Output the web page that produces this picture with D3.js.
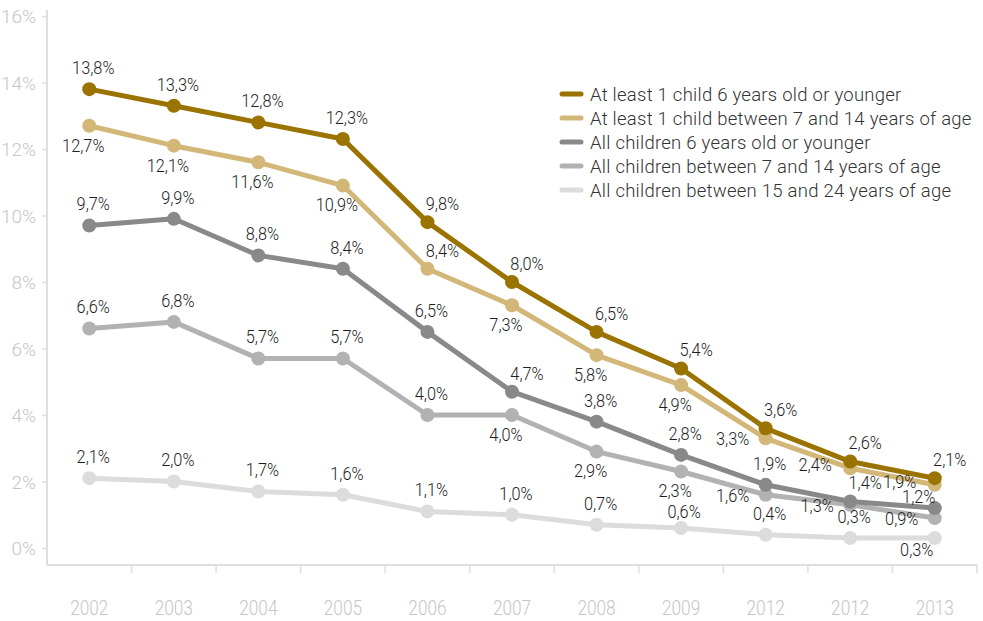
<!DOCTYPE html>
<html>
<head>
<meta charset="utf-8">
<script src="https://cdn.jsdelivr.net/npm/d3@7/dist/d3.min.js"></script>
<style>
  html, body { margin: 0; padding: 0; background: #fff; }
  svg { display: block; }
</style>
</head>
<body>
<svg id="chart" width="983" height="621"></svg>
<script>
// Share of households, by presence and age of children
const years = ['2002', '2003', '2004', '2005', '2006', '2007', '2008', '2009', '2012', '2012', '2013'];
const yTicks = [0, 2, 4, 6, 8, 10, 12, 14, 16];

const seriesNames = [
  'At least 1 child 6 years old or younger',
  'At least 1 child between 7 and 14 years of age',
  'All children 6 years old or younger',
  'All children between 7 and 14 years of age',
  'All children between 15 and 24 years of age'
];
const atLeastOneUnder7 = [13.8, 13.3, 12.8, 12.3, 9.8, 8.0, 6.5, 5.4, 3.6, 2.6, 2.1];
const atLeastOne7to14  = [12.7, 12.1, 11.6, 10.9, 8.4, 7.3, 5.8, 4.9, 3.3, 2.4, 1.9];
const allUnder7        = [9.7, 9.9, 8.8, 8.4, 6.5, 4.7, 3.8, 2.8, 1.9, 1.4, 1.2];
const all7to14         = [6.6, 6.8, 5.7, 5.7, 4.0, 4.0, 2.9, 2.3, 1.6, 1.3, 0.9];
const all15to24        = [2.1, 2.0, 1.7, 1.6, 1.1, 1.0, 0.7, 0.6, 0.4, 0.3, 0.3];

// where each value label sits relative to its dot
const labelPlacement = [
  ['n', 'n', 'n', 'n', 'ne', 'ne', 'ne', 'ne', 'ne', 'ne', 'ne'],
  ['s', 's', 's', 's', 'ne', 's', 's', 's', 'w', 'wn', 'wn'],
  ['n', 'n', 'n', 'n', 'n', 'ne', 'n', 'n', 'n', 'ne', 'nw'],
  ['n', 'n', 'n', 'n', 'n', 's', 's', 's', 'w', 'w', 'w'],
  ['n', 'n', 'n', 'n', 'n', 'n', 'n', 'hn', 'n', 'n', 'sw']
];
const placementOffset = {
  n:  [4, -22],
  hn: [3, -17],
  ne: [15, -19],
  s:  [-6, 19],
  w:  [-33, 0],
  wn: [-35, -4],
  nw: [-16, -12],
  sw: [-18, 11]
};

const colors = ['#9a7300', '#d3b778', '#898989', '#b2b2b2', '#dcdcdc'];
const seriesValues = [atLeastOneUnder7, atLeastOne7to14, allUnder7, all7to14, all15to24];

const series = seriesNames.map((name, s) => ({
  name,
  color: colors[s],
  points: seriesValues[s].map((v, i) => ({ i, v, place: labelPlacement[s][i] }))
}));

const svg = d3.select('#chart');
const plotLeft = 47, plotRight = 977, plotTop = 16, zeroY = 548, axisY = 565;

const x = d3.scaleBand().domain(d3.range(years.length)).range([plotLeft, plotRight]).padding(0);
const y = d3.scaleLinear().domain([0, 16]).range([zeroY, plotTop]);
const cx = i => x(i) + x.bandwidth() / 2;

const axisColor = '#dedede';
const fmt = v => v.toFixed(1).replace('.', ',') + '%';

// y axis
const yAxis = svg.append('g')
  .attr('transform', `translate(${plotLeft},0)`)
  .call(d3.axisLeft(y).tickValues(yTicks).tickFormat(d => d + '%').tickSize(5).tickPadding(6));
yAxis.select('.domain').remove();
yAxis.selectAll('.tick line').attr('stroke', axisColor).attr('stroke-width', 1.5);
yAxis.selectAll('.tick text')
  .attr('fill', '#c6c6c6')
  .attr('font-family', 'Roboto, sans-serif')
  .attr('font-weight', 300)
  .attr('font-size', 19)
  .attr('dy', '0.36em');
svg.append('line')
  .attr('x1', plotLeft).attr('x2', plotLeft)
  .attr('y1', plotTop - 6).attr('y2', axisY)
  .attr('stroke', axisColor).attr('stroke-width', 2);

// x axis
svg.append('line')
  .attr('x1', plotLeft).attr('x2', plotRight)
  .attr('y1', axisY).attr('y2', axisY)
  .attr('stroke', axisColor).attr('stroke-width', 2);
svg.append('g')
  .selectAll('line')
  .data(d3.range(1, years.length + 1))
  .join('line')
  .attr('x1', i => plotLeft + i * x.step()).attr('x2', i => plotLeft + i * x.step())
  .attr('y1', axisY).attr('y2', axisY + 8)
  .attr('stroke', axisColor).attr('stroke-width', 1.5);
svg.append('g')
  .selectAll('text')
  .data(years)
  .join('text')
  .attr('transform', (d, i) => `translate(${cx(i)},${615}) scale(0.82,1)`)
  .attr('text-anchor', 'middle')
  .attr('fill', '#c6c6c6')
  .attr('font-family', 'Roboto, sans-serif')
  .attr('font-weight', 300)
  .attr('font-size', 21)
  .text(d => d);

// lines and dots, lightest series drawn first
const line = d3.line().x(d => cx(d.i)).y(d => y(d.v));
const layers = svg.append('g')
  .selectAll('g')
  .data(series.slice().reverse())
  .join('g');
layers.append('path')
  .attr('d', d => line(d.points))
  .attr('fill', 'none')
  .attr('stroke', d => d.color)
  .attr('stroke-width', 5)
  .attr('stroke-linejoin', 'round');
layers.selectAll('circle')
  .data(d => d.points.map(p => ({ ...p, color: d.color })))
  .join('circle')
  .attr('cx', d => cx(d.i))
  .attr('cy', d => y(d.v))
  .attr('r', 7)
  .attr('fill', d => d.color);

// value labels
svg.append('g')
  .selectAll('text')
  .data(series.flatMap(s => s.points))
  .join('text')
  .attr('transform', d => {
    const [dx, dy] = placementOffset[d.place];
    return `translate(${cx(d.i) + dx},${y(d.v) + dy}) scale(0.86,1)`;
  })
  .attr('text-anchor', 'middle')
  .attr('dy', '0.36em')
  .attr('fill', '#1e1e1e')
  .attr('font-family', 'Roboto, sans-serif')
  .attr('font-weight', 300)
  .attr('font-size', 19)
  .text(d => fmt(d.v));

// legend
const legend = svg.append('g')
  .selectAll('g')
  .data(series)
  .join('g')
  .attr('transform', (d, i) => `translate(562,${94 + i * 24})`);
legend.append('line')
  .attr('x1', 0).attr('x2', 19)
  .attr('stroke', d => d.color)
  .attr('stroke-width', 5)
  .attr('stroke-linecap', 'round');
legend.append('text')
  .attr('x', 28)
  .attr('dy', '0.36em')
  .attr('fill', '#333')
  .attr('font-family', 'Roboto, sans-serif')
  .attr('font-weight', 300)
  .attr('font-size', 18.5)
  .attr('letter-spacing', 0.25)
  .text(d => d.name);
</script>
</body>
</html>
